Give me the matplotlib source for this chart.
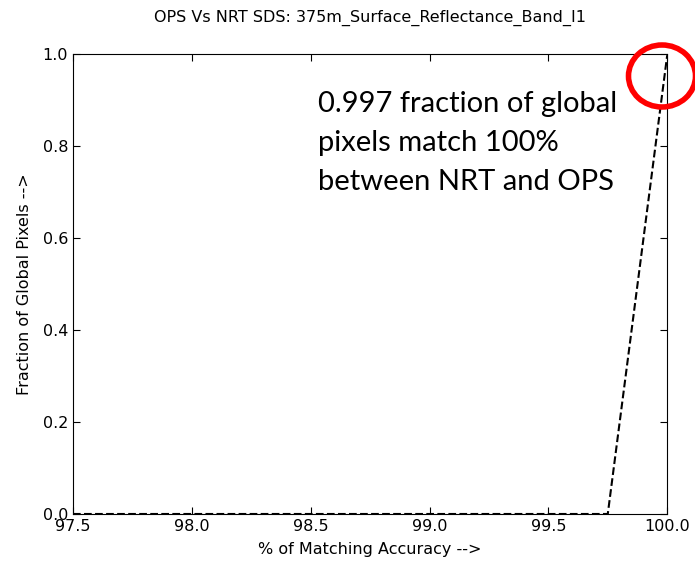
import matplotlib
matplotlib.use('Agg')
import matplotlib.pyplot as plt
from matplotlib.patches import Ellipse

# histogram of matching accuracy (bin edges in %)
accuracy = [97.5, 97.75, 98.0, 98.25, 98.5, 98.75, 99.0, 99.25, 99.5, 99.75, 100.0]
fraction = [0.0, 0.0, 0.0, 0.0, 0.0, 0.0, 0.0, 0.0, 0.0, 0.0, 0.997]
xticks = [97.5, 98.0, 98.5, 99.0, 99.5, 100.0]
yticks = [0.0, 0.2, 0.4, 0.6, 0.8, 1.0]

fig = plt.figure(figsize=(6.95, 5.67), dpi=100)
ax = fig.add_axes([0.105, 0.0935, 0.855, 0.8115])

ax.plot(accuracy, fraction, 'k--', linewidth=1.5)
ax.set_xlim(97.5, 100.0)
ax.set_ylim(0.0, 1.0)
ax.set_xticks(xticks)
ax.set_yticks(yticks)
ax.set_xticklabels(['%.1f' % t for t in xticks])
ax.set_yticklabels(['%.1f' % t for t in yticks])
ax.tick_params(direction='in', labelsize=11.5, top=True, right=True, length=5)

ax.set_title('OPS Vs NRT SDS: 375m_Surface_Reflectance_Band_I1', fontsize=11.5, pad=23)
ax.set_xlabel('% of Matching Accuracy -->', fontsize=11.5, labelpad=6)
ax.set_ylabel('Fraction of Global Pixels -->', fontsize=11.5, labelpad=8)

# annotation
fig.text(318 / 695, 1 - 91 / 567,
         '0.997 fraction of global\npixels match 100%\nbetween NRT and OPS',
         fontsize=21, family='Lato', va='top', ha='left', linespacing=1.62)

# red circle around the top of the curve
circ = Ellipse((6.62, 4.91), 0.67, 0.62, transform=fig.dpi_scale_trans,
               fill=False, edgecolor='red', linewidth=4, clip_on=False)
fig.patches.append(circ)

fig.savefig('out.png', dpi=100)
